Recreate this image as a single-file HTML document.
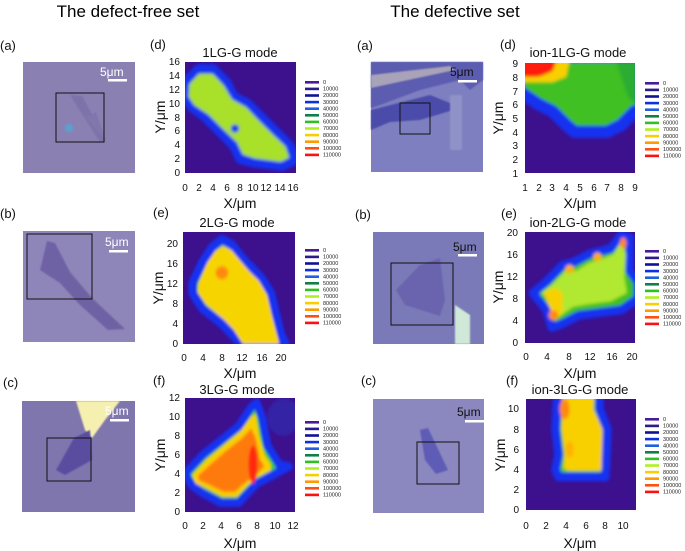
<!DOCTYPE html>
<html><head><meta charset="utf-8"><style>
html,body{margin:0;padding:0;background:#fff}
svg{display:block}
text{font-family:"Liberation Sans",sans-serif}
.t{font-size:10px;fill:#111}
.lg{font-size:5.5px;fill:#222}
.ax{font-size:14px;fill:#111}
.pl{font-size:13px;fill:#111}
.ti{font-size:13px;fill:#111}
</style></head><body>
<svg width="685" height="551" viewBox="0 0 685 551" xmlns="http://www.w3.org/2000/svg">
<defs>
<filter id="f16" x="-20%" y="-20%" width="140%" height="140%"><feGaussianBlur stdDeviation="0.22"/></filter>
<filter id="f22" x="-20%" y="-20%" width="140%" height="140%"><feGaussianBlur stdDeviation="0.3"/></filter>
<filter id="f12" x="-20%" y="-20%" width="140%" height="140%"><feGaussianBlur stdDeviation="0.16"/></filter>
<filter id="f8" x="-20%" y="-20%" width="140%" height="140%"><feGaussianBlur stdDeviation="0.11"/></filter>
<filter id="b2"><feGaussianBlur stdDeviation="0.8"/></filter>
<g id="leg">
<rect x="0" y="0" width="14" height="2.6" fill="#4b1a9a"/>
<rect x="0" y="6.6" width="14" height="2.6" fill="#2a1a8a"/>
<rect x="0" y="13.2" width="14" height="2.6" fill="#10109a"/>
<rect x="0" y="19.8" width="14" height="2.6" fill="#1030e0"/>
<rect x="0" y="26.4" width="14" height="2.6" fill="#2060e0"/>
<rect x="0" y="33" width="14" height="2.6" fill="#108048"/>
<rect x="0" y="39.6" width="14" height="2.6" fill="#30c020"/>
<rect x="0" y="46.2" width="14" height="2.6" fill="#b0f020"/>
<rect x="0" y="52.8" width="14" height="2.6" fill="#f8d000"/>
<rect x="0" y="59.4" width="14" height="2.6" fill="#ff9a00"/>
<rect x="0" y="66" width="14" height="2.6" fill="#ff5010"/>
<rect x="0" y="72.6" width="14" height="2.6" fill="#ff1010"/>
<text class="lg" x="18" y="3">0</text><text class="lg" x="18" y="9.6">10000</text><text class="lg" x="18" y="16.2">20000</text><text class="lg" x="18" y="22.8">30000</text><text class="lg" x="18" y="29.4">40000</text><text class="lg" x="18" y="36">50000</text><text class="lg" x="18" y="42.6">60000</text><text class="lg" x="18" y="49.2">70000</text><text class="lg" x="18" y="55.8">80000</text><text class="lg" x="18" y="62.4">90000</text><text class="lg" x="18" y="69">100000</text><text class="lg" x="18" y="75.6">110000</text>
</g>
</defs>

<text x="128" y="17" font-size="17" text-anchor="middle" font-family="Liberation Sans">The defect-free set</text>
<text x="455" y="17" font-size="17" text-anchor="middle" font-family="Liberation Sans">The defective set</text>

<text class="pl" x="0" y="50">(a)</text><text class="pl" x="150" y="49">(d)</text>
<text class="pl" x="0" y="218">(b)</text><text class="pl" x="153" y="217">(e)</text>
<text class="pl" x="3" y="387">(c)</text><text class="pl" x="153" y="385">(f)</text>
<text class="pl" x="357" y="50">(a)</text><text class="pl" x="500" y="49">(d)</text>
<text class="pl" x="355" y="219">(b)</text><text class="pl" x="501" y="218">(e)</text>
<text class="pl" x="361" y="385">(c)</text><text class="pl" x="506" y="385">(f)</text>

<rect x="23" y="62" width="112" height="111" fill="#8a80b2"/>
<polygon points="70,95 82,96 106,140 100,142" fill="#7d72aa" filter="url(#b2)"/>
<polygon points="86,118 96,112 106,141" fill="#8078ad"/>
<circle cx="69" cy="128" r="4" fill="#5aa0d0" filter="url(#b2)"/>
<rect x="56" y="93" width="48" height="49" fill="none" stroke="#111" stroke-width="1"/>
<text x="100" y="76" font-size="12" fill="#fff">5μm</text><rect x="108" y="79" width="19" height="2.5" fill="#fff"/>

<rect x="23" y="231" width="112" height="111" fill="#8e86b8"/>
<polygon points="47,241 55,243 70,272 92,298 125,329 108,330 80,305 60,283 40,270" fill="#6e62a5" filter="url(#b2)"/>
<rect x="27" y="234" width="65" height="65" fill="none" stroke="#111" stroke-width="1"/>
<text x="105" y="246" font-size="12" fill="#fff">5μm</text><rect x="109" y="250" width="19" height="2.5" fill="#fff"/>

<rect x="22" y="401" width="113" height="111" fill="#7f76ad"/>
<polygon points="76,401 120,401 105,420 92,438 85,430" fill="#f6f0b0" filter="url(#b2)"/>
<polygon points="74,438 90,430 92,460 65,475 56,470" fill="#5a4ea0" filter="url(#b2)"/>
<rect x="47" y="438" width="44" height="43" fill="none" stroke="#111" stroke-width="1"/>
<text x="105" y="415" font-size="12" fill="#fff">5μm</text><rect x="110" y="419" width="19" height="2.5" fill="#fff"/>

<rect x="371" y="62" width="112" height="110" fill="#7e7fc0"/>
<polygon points="371,62 483,62 483,80 470,90 460,80 420,90 380,105 371,108" fill="#5b5cb0" filter="url(#b2)"/>
<polygon points="371,75 450,66 455,70 371,88" fill="#a8a3b8" filter="url(#b2)"/>
<polygon points="371,110 430,95 450,103 460,108 420,120 390,122 371,130" fill="#4b4caa" filter="url(#b2)"/>
<rect x="450" y="95" width="12" height="55" fill="#8e92c8" filter="url(#b2)"/>
<rect x="400" y="103" width="30" height="31" fill="none" stroke="#111" stroke-width="1"/>
<text x="450" y="76" font-size="12" fill="#111">5μm</text><rect x="458" y="80" width="19" height="2.5" fill="#fff"/>

<rect x="373" y="232" width="111" height="112" fill="#7b7ab8"/>
<polygon points="420,265 440,258 445,300 440,316 405,305 396,290" fill="#6a64ad" filter="url(#b2)"/>
<polygon points="455,305 470,315 470,344 455,344" fill="#d0e8d8" filter="url(#b2)"/>
<rect x="391" y="263" width="62" height="62" fill="none" stroke="#111" stroke-width="1"/>
<text x="453" y="251" font-size="12" fill="#111">5μm</text><rect x="458" y="254" width="19" height="2.5" fill="#fff"/>

<rect x="373" y="399" width="111" height="114" fill="#8b88c0"/>
<polygon points="420,430 428,428 448,470 436,474 425,460" fill="#5f5cb5" filter="url(#b2)"/>
<rect x="417" y="442" width="42" height="42" fill="none" stroke="#111" stroke-width="1"/>
<text x="457" y="416" font-size="12" fill="#111">5μm</text><rect x="465" y="420" width="19" height="2.5" fill="#fff"/>

<svg x="185" y="62" width="111" height="111" viewBox="0 0 16 16" preserveAspectRatio="none">
<rect width="16" height="16" fill="#3d108e"/>
<g transform="translate(0,16) scale(1,-1)" filter="url(#f16)" stroke-linejoin="round">
<polygon points="0,11 0,13 2,15 4,15 6,13 7,11 9,10 11,8 13,6 15,4 16,2 14,1 10,1.5 8,2 7,4 5,6 3,8 1,9.5" fill="#60d020" stroke="#1530f0" stroke-width="1.4"/>
<polygon points="0.5,11 0.6,12.8 2,14.3 4,14.3 5.6,12.6 6.8,10.6 8.8,9.5 10.6,7.6 12.6,5.6 14.5,3.8 15,2.2 13.8,1.6 10,2.1 8.3,2.7 7.5,4.4 5.4,6.4 3.4,8.4 1.3,9.8" fill="#a8e02a"/>
<circle cx="7.2" cy="6.4" r="0.6" fill="#1530f0"/>
</g>
</svg>
<g class="t" text-anchor="end"><text x="180" y="176">0</text><text x="180" y="162">2</text><text x="180" y="148">4</text><text x="180" y="134">6</text><text x="180" y="121">8</text><text x="180" y="107">10</text><text x="180" y="93">12</text><text x="180" y="79">14</text><text x="180" y="65">16</text></g>
<g class="t" text-anchor="middle"><text x="185" y="191">0</text><text x="199" y="191">2</text><text x="213" y="191">4</text><text x="227" y="191">6</text><text x="240" y="191">8</text><text x="253" y="191">10</text><text x="266" y="191">12</text><text x="280" y="191">14</text><text x="293" y="191">16</text></g>
<text class="ax" x="240" y="208" text-anchor="middle">X/μm</text>
<text class="ax" transform="translate(165,117) rotate(-90)" text-anchor="middle">Y/μm</text>
<text class="ti" x="240" y="57" text-anchor="middle">1LG-G mode</text>
<use href="#leg" x="305" y="81"/>

<svg x="183" y="232" width="112" height="112" viewBox="0 0 23 22" preserveAspectRatio="none">
<rect width="23" height="22" fill="#3d108e"/>
<g transform="translate(0,22) scale(1,-1)" filter="url(#f22)" stroke-linejoin="round">
<polygon points="2,12 4,16 6,19 8,20.5 10,19.5 12,17 14,15 16,13 18,10 19,6 20,2 21,0 12,0 10,2 8,4 4,7 2,10" fill="#50c828" stroke="#1530f0" stroke-width="1.8"/>
<polygon points="3.2,12 5,16 6.6,18.2 8.2,19.2 10,18.4 11.8,16.3 13.6,14.3 15.6,12.4 17.3,9.6 18.2,5.8 19.3,1.8 19.8,0 12.3,0 10.4,2.8 8.4,4.8 4.7,7.8 3,10.2" fill="#f6d400"/>
<circle cx="8" cy="14" r="1.3" fill="#ff8a10"/>
</g>
</svg>
<g class="t" text-anchor="end"><text x="178" y="347">0</text><text x="178" y="327">4</text><text x="178" y="307">8</text><text x="178" y="287">12</text><text x="178" y="267">16</text><text x="178" y="247">20</text></g>
<g class="t" text-anchor="middle"><text x="184" y="361">0</text><text x="203" y="361">4</text><text x="222" y="361">8</text><text x="242" y="361">12</text><text x="262" y="361">16</text><text x="281" y="361">20</text></g>
<text class="ax" x="240" y="378" text-anchor="middle">X/μm</text>
<text class="ax" transform="translate(163,288) rotate(-90)" text-anchor="middle">Y/μm</text>
<text class="ti" x="237" y="227" text-anchor="middle">2LG-G mode</text>
<use href="#leg" x="305" y="249"/>

<svg x="185" y="398" width="110" height="114" viewBox="0 0 12.3 12" preserveAspectRatio="none">
<rect width="12.3" height="12" fill="#3d108e"/>
<g transform="translate(0,12) scale(1,-1)" filter="url(#f12)" stroke-linejoin="round">
<ellipse cx="11" cy="10" rx="1.8" ry="2" fill="#2040c8" opacity="0.4"/>
<polygon points="0,4 2,6 4,7.5 6,9 7.4,11 8,11.5 8.6,10 9.2,7 10.5,5 11.6,4.8 10,4 8,3 7,2 6,1 4,1 2,2 0.8,2.8" fill="#40c828" stroke="#1530f0" stroke-width="0.9"/>
<polygon points="0.8,3.9 2.4,5.5 4.3,7 6.2,8.5 7.4,10 7.9,10.3 8.3,8 8.9,6 9.6,5 9.6,4.4 8,3.6 6.8,2.6 5.8,1.6 4.2,1.6 2.4,2.5 1.2,3" fill="#f8d000"/>
<polygon points="1.4,3.8 2.8,5 4.5,6.4 6.4,7.8 7.4,8.8 7.9,7.8 8.4,5.5 8.9,4.8 7.8,3.8 6.5,2.9 5.6,2.1 4.3,2.1 2.6,2.9 1.6,3.3" fill="#ff7a10"/>
<ellipse cx="7.6" cy="5" rx="0.5" ry="2" fill="#ff2a10"/>
</g>
</svg>
<g class="t" text-anchor="end"><text x="180" y="515">0</text><text x="180" y="496">2</text><text x="180" y="477">4</text><text x="180" y="458">6</text><text x="180" y="439">8</text><text x="180" y="420">10</text><text x="180" y="401">12</text></g>
<g class="t" text-anchor="middle"><text x="185" y="529">0</text><text x="203" y="529">2</text><text x="221" y="529">4</text><text x="239" y="529">6</text><text x="257" y="529">8</text><text x="275" y="529">10</text><text x="293" y="529">12</text></g>
<text class="ax" x="240" y="548" text-anchor="middle">X/μm</text>
<text class="ax" transform="translate(165,455) rotate(-90)" text-anchor="middle">Y/μm</text>
<text class="ti" x="237" y="394" text-anchor="middle">3LG-G mode</text>
<use href="#leg" x="305" y="421"/>

<svg x="525" y="63" width="110" height="110" viewBox="1 0 8 8" preserveAspectRatio="none">
<rect x="1" width="8" height="8" fill="#3d108e"/>
<g transform="translate(0,9) scale(1,-1)" filter="url(#f8)" stroke-linejoin="round">
<polygon points="0.5,9.5 0.5,7 2,6 3,5.5 4,4.5 4.6,4 7,4 8,4.5 9,5.5 9.5,5.5 9.5,9.5" fill="#40c020" stroke="#1530f0" stroke-width="0.9"/>
<polygon points="0.5,9.5 4.3,9.5 4,8 3,7.6 0.5,7.6" fill="#f8d000"/>
<polygon points="0.5,9.5 3.4,9.5 3,8.4 2,8 0.5,8" fill="#ff1a10"/>
<polygon points="7.5,9.5 9.5,9.5 9.5,5.8 8.5,6.5" fill="#20a040" opacity="0.6"/>
</g>
</svg>
<g class="t" text-anchor="end"><text x="518" y="177">1</text><text x="518" y="163">2</text><text x="518" y="149">3</text><text x="518" y="136">4</text><text x="518" y="122">5</text><text x="518" y="108">6</text><text x="518" y="95">7</text><text x="518" y="81">8</text><text x="518" y="67">9</text></g>
<g class="t" text-anchor="middle"><text x="525" y="191">1</text><text x="539" y="191">2</text><text x="552" y="191">3</text><text x="566" y="191">4</text><text x="580" y="191">5</text><text x="594" y="191">6</text><text x="607" y="191">7</text><text x="621" y="191">8</text><text x="635" y="191">9</text></g>
<text class="ax" x="580" y="208" text-anchor="middle">X/μm</text>
<text class="ax" transform="translate(503,118) rotate(-90)" text-anchor="middle">Y/μm</text>
<text class="ti" x="578" y="57" text-anchor="middle">ion-1LG-G mode</text>
<use href="#leg" x="645" y="82"/>

<svg x="525" y="232" width="110" height="111" viewBox="0 0 20.5 20" preserveAspectRatio="none">
<rect width="20.5" height="20" fill="#3d108e"/>
<g transform="translate(0,20) scale(1,-1)" filter="url(#f22)" stroke-linejoin="round">
<polygon points="1.5,9 4,11 7,14 9,14.5 12,16 14,16.5 16,17 18,19.5 19.5,19 19.5,13 21,11 21,8 18,6 14,5.5 10,5 7,3.5 5,2.8 4,6" fill="#40c020" stroke="#1530f0" stroke-width="1.6"/>
<polygon points="3,9 5,10.5 7.5,13 9.5,13 12,14.5 14,15 16.5,16 18,18.5 18.8,16 18.5,12 19,9 16,7.5 12,7 9,6.5 6,4.5 5,5 4.5,8" fill="#b0e830"/>
<polygon points="3.5,9 5.5,10 7,9 7,5.5 5.5,4.2 4.8,6" fill="#f8d000"/>
<circle cx="5.3" cy="5" r="0.9" fill="#ff8a10"/>
<ellipse cx="18.3" cy="18" rx="0.6" ry="1" fill="#ff8a10"/>
<circle cx="13.5" cy="15.5" r="0.8" fill="#f8b000"/>
<circle cx="8.3" cy="13.3" r="0.8" fill="#f8b000"/>
</g>
</svg>
<g class="t" text-anchor="end"><text x="518" y="346">0</text><text x="518" y="324">4</text><text x="518" y="302">8</text><text x="518" y="280">12</text><text x="518" y="258">16</text><text x="518" y="236">20</text></g>
<g class="t" text-anchor="middle"><text x="526" y="360">0</text><text x="547" y="360">4</text><text x="569" y="360">8</text><text x="590" y="360">12</text><text x="612" y="360">16</text><text x="632" y="360">20</text></g>
<text class="ax" x="580" y="378" text-anchor="middle">X/μm</text>
<text class="ax" transform="translate(503,287) rotate(-90)" text-anchor="middle">Y/μm</text>
<text class="ti" x="578" y="227" text-anchor="middle">ion-2LG-G mode</text>
<use href="#leg" x="645" y="250"/>

<svg x="526" y="399" width="110" height="111" viewBox="0 0 11.1 11" preserveAspectRatio="none">
<rect width="11.1" height="11" fill="#3d108e"/>
<g transform="translate(0,11) scale(1,-1)" filter="url(#f12)" stroke-linejoin="round">
<polygon points="3.2,11.5 3,8 3.3,5.5 3,4 3.3,3.3 8,3.3 8.2,8 7.4,10 7.4,11.5" fill="#50c828" stroke="#1530f0" stroke-width="0.9"/>
<polygon points="3.7,11.5 3.6,8 3.9,5.5 3.8,4.2 4.2,3.9 7.6,3.9 7.7,8 6.8,10 6.9,11.5" fill="#f8d000"/>
<ellipse cx="3.9" cy="10" rx="0.5" ry="1" fill="#ff8a10"/>
<ellipse cx="4.4" cy="6" rx="0.4" ry="0.8" fill="#ffb000"/>
</g>
</svg>
<g class="t" text-anchor="end"><text x="519" y="513">0</text><text x="519" y="493">2</text><text x="519" y="473">4</text><text x="519" y="453">6</text><text x="519" y="433">8</text><text x="519" y="412">10</text></g>
<g class="t" text-anchor="middle"><text x="526" y="529">0</text><text x="546" y="529">2</text><text x="566" y="529">4</text><text x="586" y="529">6</text><text x="605" y="529">8</text><text x="623" y="529">10</text></g>
<text class="ax" x="580" y="548" text-anchor="middle">X/μm</text>
<text class="ax" transform="translate(505,455) rotate(-90)" text-anchor="middle">Y/μm</text>
<text class="ti" x="580" y="394" text-anchor="middle">ion-3LG-G mode</text>
<use href="#leg" x="645" y="418"/>
</svg>
</body></html>
